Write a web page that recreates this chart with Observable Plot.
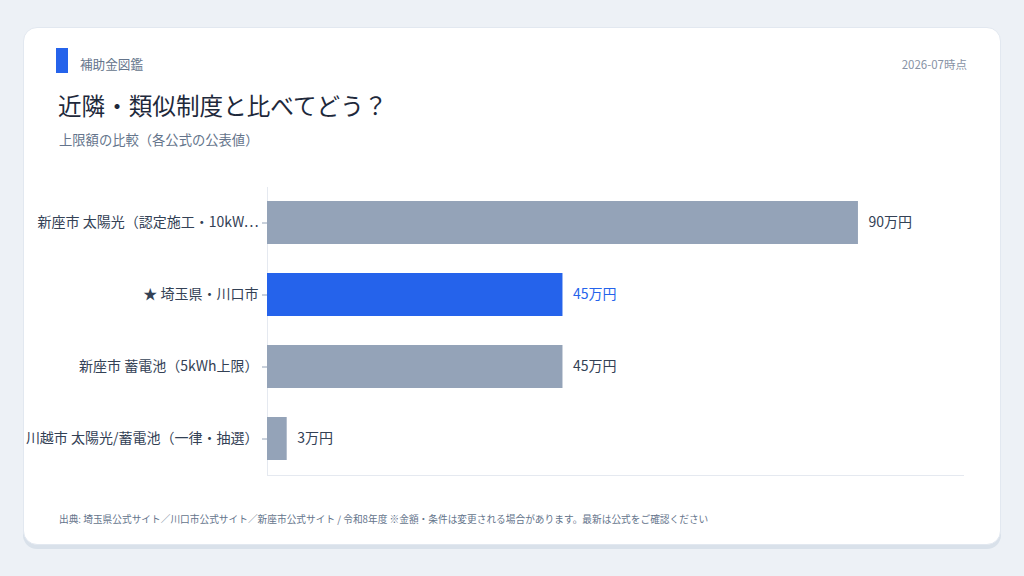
<!DOCTYPE html>
<html><head><meta charset="utf-8">
<script src="https://cdn.jsdelivr.net/npm/d3@7"></script>
<script src="https://cdn.jsdelivr.net/npm/@observablehq/plot@0.6"></script>
<style>
html,body{margin:0;padding:0;width:1024px;height:576px;background:#edf1f6;overflow:hidden;font-family:"Noto Sans CJK JP","Noto Sans",sans-serif;}
.card{position:absolute;left:23px;top:27px;width:976px;height:516px;background:#fff;border:1px solid #e2e8f0;border-radius:14px;box-shadow:0 4px 0 #d9e1ea;}
.abs{position:absolute;white-space:nowrap;}
#chart{position:absolute;left:23px;top:170px;}
</style></head>
<body>
<div class="card"></div>
<div class="abs" style="left:56px;top:48px;width:12px;height:25px;background:#2563eb;"></div>
<div class="abs" style="left:80px;top:56px;font-size:12.6px;line-height:16px;color:#64748b;">補助金図鑑</div>
<div class="abs" style="right:57px;top:57px;font-size:11.5px;line-height:14px;color:#8792a5;">2026-07時点</div>
<div class="abs" style="left:58px;top:90px;font-size:23.6px;line-height:30px;color:#1e293b;">近隣・類似制度と比べてどう？</div>
<div class="abs" style="left:59px;top:132px;font-size:13.3px;line-height:16px;color:#64748b;">上限額の比較（各公式の公表値）</div>
<div id="chart"></div>
<div class="abs" style="left:59px;top:513px;font-size:9.7px;line-height:12px;color:#64748b;">出典: 埼玉県公式サイト／川口市公式サイト／新座市公式サイト / 令和8年度 ※金額・条件は変更される場合があります。最新は公式をご確認ください</div>
<script>
const programs = ["新座市 太陽光（認定施工・10kW⋯", "★ 埼玉県・川口市", "新座市 蓄電池（5kWh上限）", "川越市 太陽光/蓄電池（一律・抽選）"];
const maxAmount = [90, 45, 45, 3];
const highlighted = ["★ 埼玉県・川口市"];
const unit = "万円";

const data = programs.map((p, i) => ({program: p, amount: maxAmount[i], hi: highlighted.includes(p)}));

const chart = Plot.plot({
  width: 960,
  height: 320,
  marginLeft: 244,
  marginRight: 20,
  marginTop: 17,
  marginBottom: 15,
  style: {fontFamily: '"Noto Sans CJK JP","Noto Sans",sans-serif', fontSize: "14px", color: "#334155", background: "transparent"},
  x: {domain: [0, 106], axis: null},
  y: {domain: programs, paddingInner: 0.4, paddingOuter: 0.2, label: null},
  color: {type: "identity"},
  marks: [
    Plot.frame({anchor: "bottom", stroke: "#e5e9f0"}),
    Plot.ruleX([0], {stroke: "#e5e9f0"}),
    Plot.axisY({tickSize: 5, tickPadding: 4, stroke: "#94a3b8", fill: "#334155", fontSize: 14}),
    Plot.barX(data, {y: "program", x: "amount", fill: d => d.hi ? "#2563eb" : "#94a3b8"}),
    Plot.text(data, {y: "program", x: "amount", text: d => d.amount + unit, dx: 10, textAnchor: "start", fill: d => d.hi ? "#2563eb" : "#334155", fontSize: 14})
  ]
});
document.getElementById("chart").appendChild(chart);
</script>
</body></html>
